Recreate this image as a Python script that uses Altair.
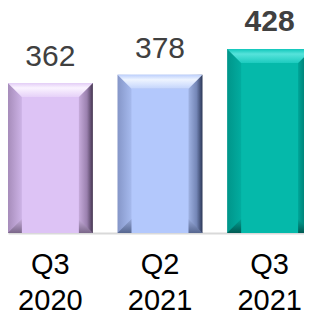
import altair as alt
import pandas as pd

# ---- data ----
quarters = ["Q3 2020", "Q2 2021", "Q3 2021"]
values = [362, 378, 428]
highlight = "Q3 2021"

# per-bar palette
face_colors = ["#DDC3F5", "#B3C8FC", "#05B9AA"]
left_edge = ["#A68CBA", "#8596C8", "#00958A"]
left_inner = ["#CDB3E6", "#A6BAEE", "#02AC9F"]
right_inner = ["#C6ABDB", "#9FB2E2", "#00A598"]
right_mid = ["#9A80AE", "#7486B6", "#007A70"]
right_edge = ["#43334F", "#2B3656", "#00413B"]
top_a = ["#E3CDF6", "#BDD0FC", "#12C7BB"]
top_b = ["#FAF3FF", "#EEF4FF", "#56E3DB"]
top_c = ["#E6D1F8", "#C3D4FC", "#1CCBBF"]
bot_a = ["#C6ADDB", "#97A9D9", "#02A294"]
bot_b = ["#7A6689", "#56668F", "#005A53"]

df = pd.DataFrame({"quarter": quarters, "value": values})

BASE = 70
TOP = 502.2
BAR_W = 85
BEV = 14
FONT = "Liberation Sans"
unit = BAR_W / 2.0
k = BEV / unit
top_path = f"M-1,0L1,0L{1-k:.3f},{k:.3f}L{-(1-k):.3f},{k:.3f}Z"
bot_path = f"M-1,0L1,0L{1-k:.3f},{-k:.3f}L{-(1-k):.3f},{-k:.3f}Z"

x_enc = alt.X(
    "quarter:N",
    scale=alt.Scale(domain=quarters, range=[0, 304], paddingInner=0.227, paddingOuter=0),
    axis=alt.Axis(
        title=None,
        ticks=False,
        tickSize=0,
        domainColor="#d9d9d9",
        domainWidth=2,
        labelAngle=0,
        labelFont=FONT,
        labelFontSize=29,
        labelColor="#000000",
        labelLineHeight=36,
        labelPadding=17,
        labelExpr="split(datum.label, ' ')",
        labelOverlap=False,
        labelLimit=0,
    ),
)
y_scale = alt.Scale(domain=[BASE, TOP], zero=False, nice=False)
y_enc = alt.Y("value:Q", scale=y_scale, axis=None, stack=None)
y_base = alt.datum(BASE, scale=y_scale, axis=None)


def grad(stops, horizontal):
    return alt.LinearGradient(
        gradient="linear",
        stops=[alt.GradientStop(color=c, offset=o) for c, o in stops],
        x1=0, y1=0,
        x2=1 if horizontal else 0,
        y2=0 if horizontal else 1,
    )


base = alt.Chart(df)
layers = []
for i, q in enumerate(quarters):
    src = base.transform_filter(alt.datum.quarter == q)
    outer = src.mark_bar(
        width=BAR_W,
        color=grad([(left_edge[i], 0), (left_inner[i], BEV / BAR_W),
                    (right_inner[i], 1 - BEV / BAR_W), (right_mid[i], 0.93),
                    (right_edge[i], 1)], True),
    ).encode(x=x_enc, y=y_enc)
    top = src.mark_point(
        shape=top_path, size=BAR_W * BAR_W, filled=True, opacity=1,
        strokeWidth=0,
        color=grad([(top_a[i], 0), (top_b[i], 0.35), (top_c[i], 1)], False),
    ).encode(x=x_enc, y=y_enc)
    bottom = src.mark_point(
        shape=bot_path, size=BAR_W * BAR_W, filled=True, opacity=1,
        strokeWidth=0,
        color=grad([(bot_a[i], 0), (bot_b[i], 1)], False),
    ).encode(x=x_enc, y=y_base)
    face = src.mark_bar(
        width=BAR_W - 2 * BEV, yOffset=BEV, y2Offset=-BEV, color=face_colors[i],
    ).encode(x=x_enc, y=y_enc)
    layers += [outer, top, bottom, face]

labels = base.transform_filter(alt.datum.quarter != highlight).mark_text(
    dy=-17, baseline="alphabetic", font=FONT, fontSize=30, color="#404040"
).encode(x=x_enc, y=y_enc, text="value:Q")
labels_hi = base.transform_filter(alt.datum.quarter == highlight).mark_text(
    dy=-18, baseline="alphabetic", font=FONT, fontSize=30, fontWeight="bold",
    color="#404040"
).encode(x=x_enc, y=y_enc, text="value:Q")

chart = alt.layer(*layers, labels, labels_hi).properties(
    width=296,
    height=222,
    autosize=alt.AutoSizeParams(type="none"),
    padding={"left": 0, "top": 3, "right": 0, "bottom": 82},
).configure_view(stroke=None)

chart.save("out.html", embed_options={"renderer": "svg", "actions": False})
